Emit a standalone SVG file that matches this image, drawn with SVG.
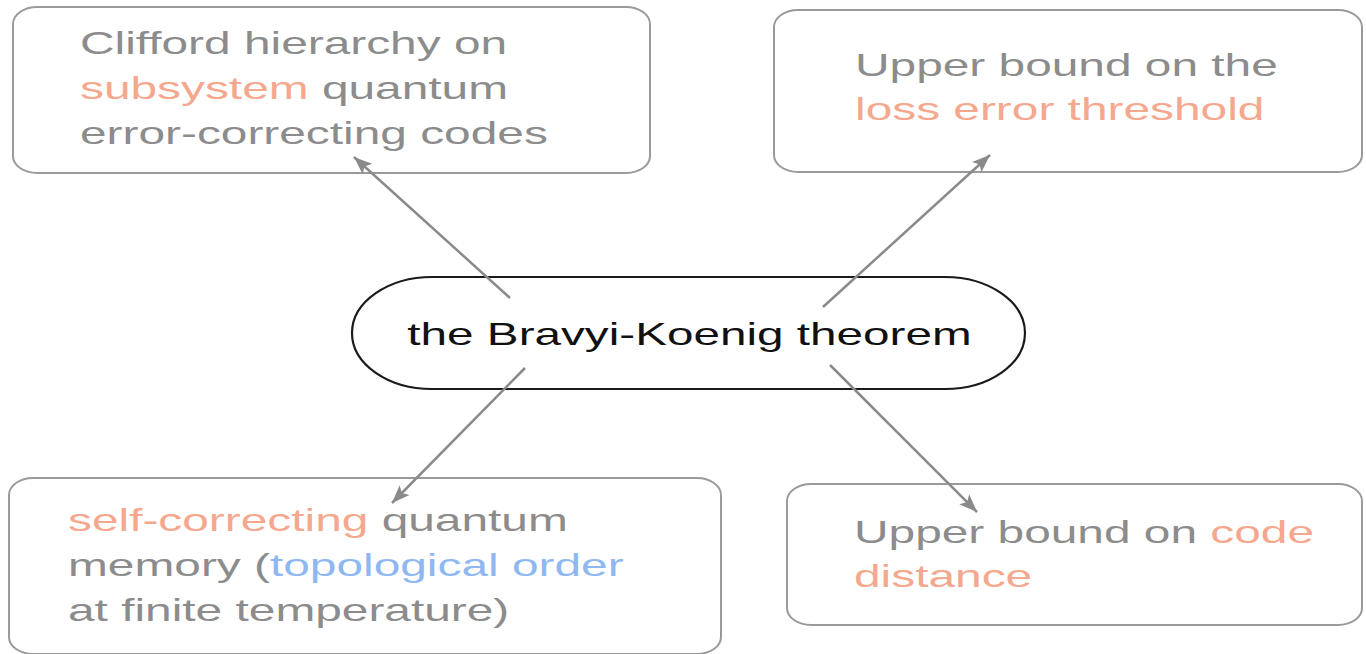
<svg xmlns="http://www.w3.org/2000/svg" width="1366" height="654" viewBox="0 0 1366 654">
<defs>
<style>
.box{fill:none;stroke:#9a9a9a;stroke-width:2}
.pill{fill:none;stroke:#1a1a1a;stroke-width:2.2}
.t{font-family:"Liberation Sans",Arial,sans-serif;font-size:32px;fill:#8c8c8c}
.o{fill:#f5a88e}
.b{fill:#8fb8f2}
.m{font-family:"Liberation Sans",Arial,sans-serif;font-size:32px;fill:#111}
.c{stroke:#8a8a8a;stroke-width:2.5;fill:none;marker-end:url(#ah)}
</style>
<marker id="ah" markerUnits="userSpaceOnUse" markerWidth="20" markerHeight="16" refX="18" refY="8" orient="auto">
<path d="M0,1 L18,8 L0,15 L4,8 Z" fill="#8a8a8a"/>
</marker>
</defs>
<rect width="1366" height="654" fill="#ffffff"/>
<g id="node-clifford">
<rect class="box" x="13" y="7" width="637" height="166" rx="24" ry="17"/>
<text class="t" transform="translate(80,54) scale(1.495,1)">Clifford hierarchy on</text>
<text class="t" transform="translate(80,99) scale(1.495,1)"><tspan class="o">subsystem</tspan> quantum</text>
<text class="t" transform="translate(80,144) scale(1.495,1)">error-correcting codes</text>
</g>
<g id="node-loss">
<rect class="box" x="774" y="10" width="588" height="162" rx="24" ry="17"/>
<text class="t" transform="translate(855,76) scale(1.495,1)">Upper bound on the</text>
<text class="t" transform="translate(855,120) scale(1.495,1)"><tspan class="o">loss error threshold</tspan></text>
</g>
<g id="node-memory">
<rect class="box" x="9" y="478" width="712" height="176" rx="24" ry="17"/>
<text class="t" transform="translate(68,531) scale(1.495,1)"><tspan class="o">self-correcting</tspan> quantum</text>
<text class="t" transform="translate(68,576) scale(1.495,1)">memory (<tspan class="b">topological order</tspan></text>
<text class="t" transform="translate(68,621) scale(1.495,1)">at finite temperature)</text>
</g>
<g id="node-distance">
<rect class="box" x="787" y="484" width="575" height="141" rx="24" ry="17"/>
<text class="t" transform="translate(854,543) scale(1.495,1)">Upper bound on <tspan class="o">code</tspan></text>
<text class="t" transform="translate(854,587) scale(1.495,1)"><tspan class="o">distance</tspan></text>
</g>
<g id="node-theorem">
<rect class="pill" x="352" y="277" width="673" height="112" rx="80" ry="56"/>
<text class="m" text-anchor="middle" transform="translate(689.5,345) scale(1.49,1)">the Bravyi-Koenig theorem</text>
</g>
<g id="connectors">
<line class="c" x1="510" y1="298" x2="354" y2="157"/>
<line class="c" x1="823" y1="307" x2="990" y2="155"/>
<line class="c" x1="525" y1="368" x2="392" y2="503"/>
<line class="c" x1="830" y1="365" x2="977" y2="512"/>
</g>
</svg>
